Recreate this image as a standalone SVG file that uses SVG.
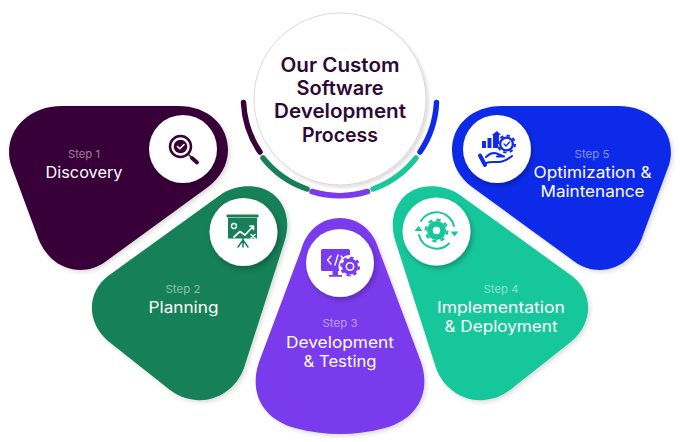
<svg xmlns="http://www.w3.org/2000/svg" width="680" height="442" viewBox="0 0 680 442">
<style>
text{font-family:"Inter","Noto Sans","Liberation Sans",sans-serif;text-anchor:middle}
.step{font-size:11px;font-weight:400;fill:#fff;fill-opacity:.5}
.lab{font-size:15.5px;font-weight:400;fill:#fff}
.ttl{font-size:19.5px;font-weight:600;fill:#2d0a36}
.blob{filter:url(#bs)}
.disc{fill:#fff;filter:url(#cs)}
.arc{fill:none;stroke-width:5.500;stroke-linecap:round}
.w{fill:none;stroke:#fff;stroke-linecap:round;stroke-linejoin:round}
.ln{fill:none;stroke-linecap:round;stroke-linejoin:round}
</style>
<defs>
<filter id="bs" x="-10%" y="-10%" width="125%" height="125%"><feDropShadow dx="2" dy="2" stdDeviation="2" flood-color="#000" flood-opacity=".14"/></filter>
<filter id="cs" x="-25%" y="-25%" width="160%" height="160%"><feDropShadow dx="2" dy="3" stdDeviation="2.500" flood-color="#000" flood-opacity=".25"/></filter>
<filter id="ms" x="-10%" y="-10%" width="125%" height="125%"><feDropShadow dx="2.500" dy="2.500" stdDeviation="1.500" flood-color="#000" flood-opacity=".13"/></filter>
</defs>

<g id="center">
<circle cx="340" cy="99" r="86" fill="#fff" stroke="#c8c8c8" stroke-width=".7" filter="url(#ms)"/>
<text class="ttl" x="340" y="72" textLength="119" lengthAdjust="spacingAndGlyphs">Our Custom</text>
<text class="ttl" x="340" y="95" textLength="87" lengthAdjust="spacingAndGlyphs">Software</text>
<text class="ttl" x="340" y="118" textLength="132" lengthAdjust="spacingAndGlyphs">Development</text>
<text class="ttl" x="340" y="142" textLength="76" lengthAdjust="spacingAndGlyphs">Process</text>
</g>

<g id="connectors">
<path class="arc" stroke="#380438" d="M243.500,102.500A96,96 0 0 0 260,152"/>
<path class="arc" stroke="#178059" d="M263,158A96,96 0 0 0 307,189"/>
<path class="arc" stroke="#7a3aed" d="M312,191.500A96,96 0 0 0 367.500,191.500"/>
<path class="arc" stroke="#19c79b" d="M373,189A96,96 0 0 0 416,158"/>
<path class="arc" stroke="#0f2be9" d="M420,152A96,96 0 0 0 436.500,102.500"/>
</g>

<g id="step1">
<path class="blob" fill="#380438" d="M62,106L178,106C208,106 228,125 228,150C228,165 220,178 208,187L105,262C92,271 78,272 65,267C52,262 42,250 37,235L11,165C2,135 25,106 62,106Z"/>
<circle class="disc" cx="183" cy="149" r="34"/>
<circle class="ln" cx="180.500" cy="146.500" r="10.500" stroke="#380438" stroke-width="2.500"/>
<circle cx="180.500" cy="146.500" r="6.800" fill="#380438"/>
<path class="w" stroke-width="1.600" d="M177.500,146.500L179.800,148.800L184,144.500"/>
<path class="ln" stroke="#380438" stroke-width="1.500" d="M188,154L192,158"/>
<path class="ln" stroke="#380438" stroke-width="3.800" d="M192,158L197,162.500"/>
<text class="step" x="84" y="158" textLength="32" lengthAdjust="spacingAndGlyphs">Step 1</text>
<text class="lab" x="84" y="178" textLength="77" lengthAdjust="spacingAndGlyphs">Discovery</text>
</g>

<g id="step2">
<path class="blob" fill="#178059" d="M223,193C240,183 266,183 279,200C288,212 289,226 285,240L244,368C236,390 215,402 196,400C186,399 178,396 170,390L108,341C86,322 87,292 108,276Z"/>
<circle class="disc" cx="243.500" cy="232" r="34"/>
<rect x="226.500" y="214.500" width="32" height="3" rx="1" fill="#178059"/>
<rect x="228" y="218" width="29" height="20.500" fill="#178059"/>
<path class="ln" stroke="#178059" stroke-width="1.500" d="M243,238V247M243,240L238,247M243,240L248,247"/>
<circle cx="234" cy="226" r="2.500" fill="#178059" stroke="#fff" stroke-width="1.300"/>
<path class="w" stroke-width="1.700" d="M234,237L240,231.500L245,235L253,226.500M250,226L253.500,226L253.500,229.500"/>
<path class="w" stroke-width="1.500" d="M251,234.500L255,238M255,234.500L251,238"/>
<text class="step" x="183" y="293" textLength="35" lengthAdjust="spacingAndGlyphs">Step 2</text>
<text class="lab" x="183.500" y="313" textLength="70" lengthAdjust="spacingAndGlyphs">Planning</text>
</g>

<g id="step3">
<path class="blob" fill="#7a3aed" d="M340,218C360,218 374,232 379,250L421,362C432,395 415,420 385,428C355,436 325,436 295,428C265,420 248,395 259,362L301,250C306,232 320,218 340,218Z"/>
<circle class="disc" cx="340" cy="263" r="34"/>
<rect x="321" y="249" width="29" height="22" rx="1.500" fill="#7a3aed"/>
<path fill="#7a3aed" d="M332.500,271H338V275H342V276.800H329V275H332.500Z"/>
<path class="w" stroke-width="1.400" d="M331,256L327.500,260L331,264M335,265L338,255M341,256L344.500,260L341,264"/>
<circle cx="350" cy="266.500" r="11.500" fill="#fff"/>
<circle cx="350" cy="266.500" r="8" fill="#7a3aed"/>
<circle cx="350" cy="266.500" r="8.800" fill="none" stroke="#7a3aed" stroke-width="2.500" pathLength="16" stroke-dasharray="1 1"/>
<circle cx="350" cy="266.500" r="3.700" fill="#7a3aed" stroke="#fff" stroke-width="1.500"/>
<text class="step" x="340" y="327" textLength="35" lengthAdjust="spacingAndGlyphs">Step 3</text>
<text class="lab" x="340" y="348" textLength="108" lengthAdjust="spacingAndGlyphs">Development</text>
<text class="lab" x="340" y="367" textLength="73" lengthAdjust="spacingAndGlyphs">&amp; Testing</text>
</g>

<g id="step4">
<path class="blob" fill="#19c79b" d="M457,193C440,183 414,183 401,200C392,212 391,226 395,240L436,368C444,390 465,402 484,400C494,399 502,396 510,390L572,341C594,322 593,292 572,276Z"/>
<circle class="disc" cx="436.500" cy="231.500" r="34"/>
<circle cx="436.500" cy="230.500" r="9.500" fill="#19c79b"/>
<circle cx="436.500" cy="230.500" r="10.700" fill="none" stroke="#19c79b" stroke-width="2.600" pathLength="16" stroke-dasharray="1 1"/>
<circle cx="436.500" cy="230.500" r="3.700" fill="#fff"/>
<path class="ln" stroke="#19c79b" stroke-width="2" d="M421,221A18,18 0 0 1 454,226"/>
<path class="ln" stroke="#19c79b" stroke-width="2" d="M449,243.500A18,18 0 0 1 419,235"/>
<path fill="#19c79b" d="M414.500,231L418.500,226L422.500,231Z"/>
<path fill="#19c79b" d="M450.500,231.500L454.500,236.500L458.500,231.500Z"/>
<text class="step" x="501" y="293" textLength="35" lengthAdjust="spacingAndGlyphs">Step 4</text>
<text class="lab" x="501" y="313" textLength="128" lengthAdjust="spacingAndGlyphs">Implementation</text>
<text class="lab" x="501" y="332" textLength="113" lengthAdjust="spacingAndGlyphs">&amp; Deployment</text>
</g>

<g id="step5">
<path class="blob" fill="#0f2be9" d="M618,106L502,106C472,106 452,125 452,150C452,165 460,178 472,187L575,262C588,271 602,272 615,267C628,262 638,250 643,235L669,165C678,135 655,106 618,106Z"/>
<circle class="disc" cx="497" cy="149" r="34"/>
<path fill="#0f2be9" d="M482,141H486V148H482ZM487.500,138H491.500V148H487.500ZM493,148V135H492L497,131L501,135H499V148Z"/>
<circle cx="506.500" cy="144" r="8" fill="#0f2be9" stroke="#fff" stroke-width="1"/>
<circle cx="506.500" cy="144" r="8.500" fill="none" stroke="#0f2be9" stroke-width="2" pathLength="16" stroke-dasharray="1 1"/>
<circle cx="506.500" cy="144" r="5.200" fill="#fff"/>
<path class="ln" stroke="#0f2be9" stroke-width="1.400" d="M504,144L506,146L509.500,142"/>
<path class="ln" stroke="#0f2be9" stroke-width="4" d="M480,155.500L485,165"/>
<path class="ln" stroke="#0f2be9" stroke-width="2" d="M486,157C490,153 494,152 498,154L504,156.500H497M486,163C494,160 500,166 512,156"/>
<text class="step" x="592" y="158" textLength="35" lengthAdjust="spacingAndGlyphs">Step 5</text>
<text class="lab" x="592.500" y="178" textLength="118" lengthAdjust="spacingAndGlyphs">Optimization &amp;</text>
<text class="lab" x="592.500" y="197" textLength="104" lengthAdjust="spacingAndGlyphs">Maintenance</text>
</g>
</svg>
